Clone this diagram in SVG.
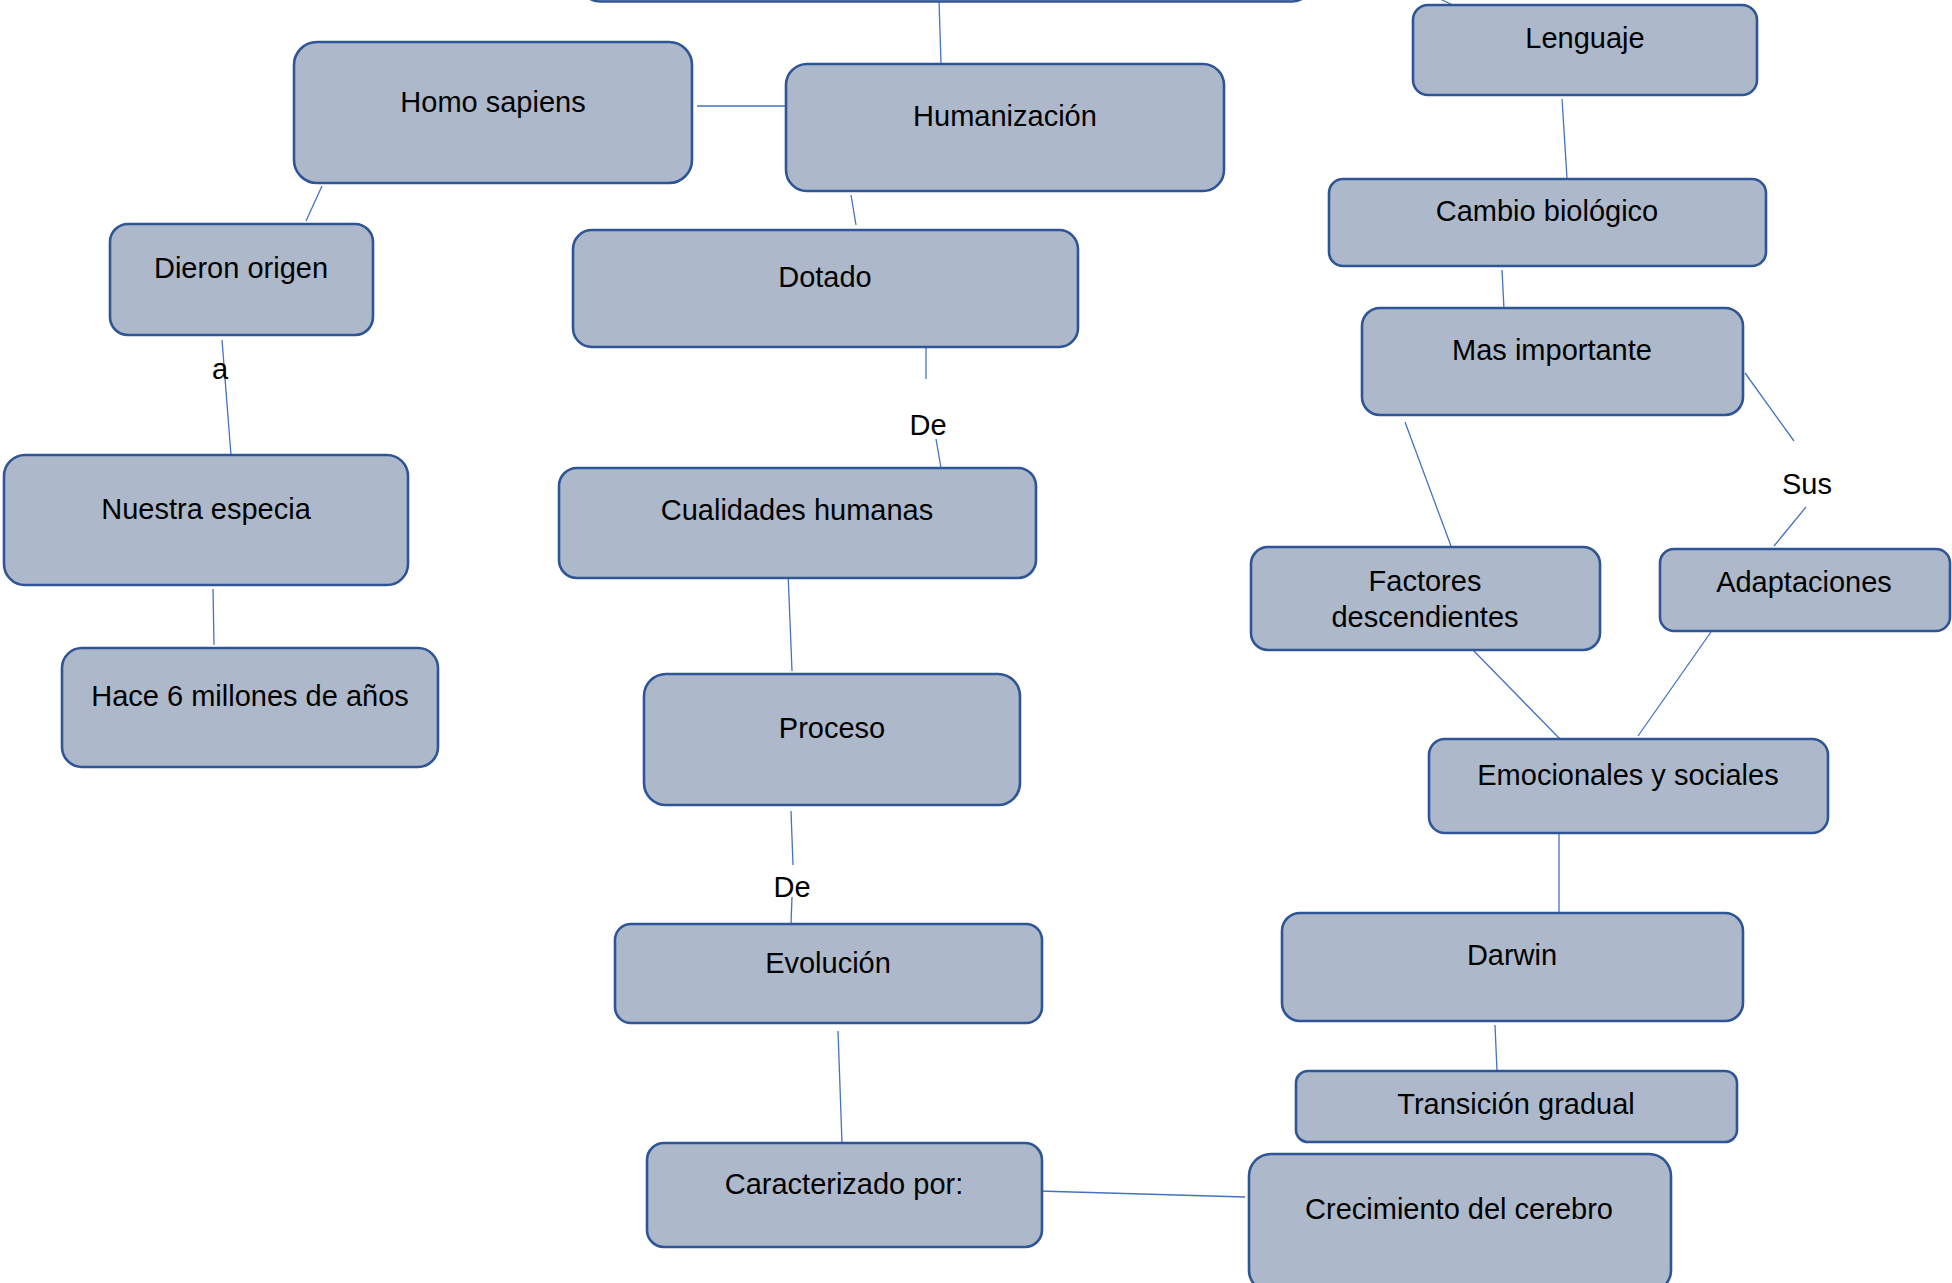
<svg xmlns="http://www.w3.org/2000/svg" width="1952" height="1283" viewBox="0 0 1952 1283">
<style>
.n{fill:#adb9ca;stroke:#2f5597;stroke-width:2.6}
.t{font-family:"Liberation Sans",Arial,sans-serif;font-size:29px;fill:#000;text-anchor:middle}
.c line{stroke:#4472c4;stroke-width:1.3;fill:none}
</style>
<rect width="1952" height="1283" fill="#fff"/>
<g id="connectors" class="c">
<line x1="939" y1="0" x2="941" y2="64"/>
<line x1="1442" y1="0" x2="1457" y2="7"/>
<line x1="697" y1="106" x2="787" y2="106"/>
<line x1="322" y1="186" x2="306" y2="221"/>
<line x1="222" y1="340" x2="231" y2="455"/>
<line x1="213" y1="589" x2="214" y2="645"/>
<line x1="851" y1="195" x2="856" y2="225"/>
<line x1="926" y1="348" x2="926" y2="379"/>
<line x1="936" y1="439" x2="941" y2="468"/>
<line x1="788" y1="572" x2="792" y2="671"/>
<line x1="791" y1="811" x2="793" y2="865"/>
<line x1="792" y1="897" x2="791" y2="924"/>
<line x1="838" y1="1031" x2="842" y2="1143"/>
<line x1="1038" y1="1191" x2="1245" y2="1197"/>
<line x1="1495" y1="1025" x2="1497" y2="1071"/>
<line x1="1559" y1="834" x2="1559" y2="918"/>
<line x1="1470" y1="647" x2="1560" y2="739"/>
<line x1="1711" y1="632" x2="1638" y2="736"/>
<line x1="1774" y1="546" x2="1806" y2="507"/>
<line x1="1745" y1="373" x2="1794" y2="441"/>
<line x1="1405" y1="422" x2="1451" y2="546"/>
<line x1="1502" y1="270" x2="1504" y2="309"/>
<line x1="1562" y1="99" x2="1567" y2="178"/>
</g>
<g id="label-a"><text class="t" x="220" y="379">a</text></g>
<g id="label-de1"><text class="t" x="928" y="435">De</text></g>
<g id="label-de2"><text class="t" x="792" y="897">De</text></g>
<g id="label-sus"><text class="t" x="1807" y="494">Sus</text></g>
<g id="node-top"><rect class="n" x="580" y="-80" width="732" height="81.5" rx="20"/></g>
<g id="node-homo"><rect class="n" x="294" y="42" width="398" height="141" rx="23"/><text class="t" x="493" y="112">Homo sapiens</text></g>
<g id="node-humanizacion"><rect class="n" x="786" y="64" width="438" height="127" rx="21"/><text class="t" x="1005" y="126">Humanización</text></g>
<g id="node-dotado"><rect class="n" x="573" y="230" width="505" height="117" rx="19"/><text class="t" x="825" y="287">Dotado</text></g>
<g id="node-dieron"><rect class="n" x="110" y="224" width="263" height="111" rx="18"/><text class="t" x="241" y="278">Dieron origen</text></g>
<g id="node-nuestra"><rect class="n" x="4" y="455" width="404" height="130" rx="21"/><text class="t" x="206" y="519">Nuestra especia</text></g>
<g id="node-hace"><rect class="n" x="62" y="648" width="376" height="119" rx="20"/><text class="t" x="250" y="706">Hace 6 millones de años</text></g>
<g id="node-cualidades"><rect class="n" x="559" y="468" width="477" height="110" rx="18"/><text class="t" x="797" y="520">Cualidades humanas</text></g>
<g id="node-proceso"><rect class="n" x="644" y="674" width="376" height="131" rx="22"/><text class="t" x="832" y="738">Proceso</text></g>
<g id="node-evolucion"><rect class="n" x="615" y="924" width="427" height="99" rx="16"/><text class="t" x="828" y="973">Evolución</text></g>
<g id="node-caracterizado"><rect class="n" x="647" y="1143" width="395" height="104" rx="17"/><text class="t" x="844" y="1194">Caracterizado por:</text></g>
<g id="node-crecimiento"><rect class="n" x="1249" y="1154" width="422" height="138" rx="22"/><text class="t" x="1459" y="1219">Crecimiento del cerebro</text></g>
<g id="node-transicion"><rect class="n" x="1296" y="1071" width="441" height="71" rx="12"/><text class="t" x="1516" y="1114">Transición gradual</text></g>
<g id="node-darwin"><rect class="n" x="1282" y="913" width="461" height="108" rx="18"/><text class="t" x="1512" y="965">Darwin</text></g>
<g id="node-emocionales"><rect class="n" x="1429" y="739" width="399" height="94" rx="16"/><text class="t" x="1628" y="785">Emocionales y sociales</text></g>
<g id="node-factores"><rect class="n" x="1251" y="547" width="349" height="103" rx="17"/><text class="t" x="1425" y="591">Factores</text><text class="t" x="1425" y="627">descendientes</text></g>
<g id="node-adaptaciones"><rect class="n" x="1660" y="549" width="290" height="82" rx="14"/><text class="t" x="1804" y="592">Adaptaciones</text></g>
<g id="node-mas"><rect class="n" x="1362" y="308" width="381" height="107" rx="18"/><text class="t" x="1552" y="360">Mas importante</text></g>
<g id="node-cambio"><rect class="n" x="1329" y="179" width="437" height="87" rx="14"/><text class="t" x="1547" y="221">Cambio biológico</text></g>
<g id="node-lenguaje"><rect class="n" x="1413" y="5" width="344" height="90" rx="15"/><text class="t" x="1585" y="48">Lenguaje</text></g>
</svg>
